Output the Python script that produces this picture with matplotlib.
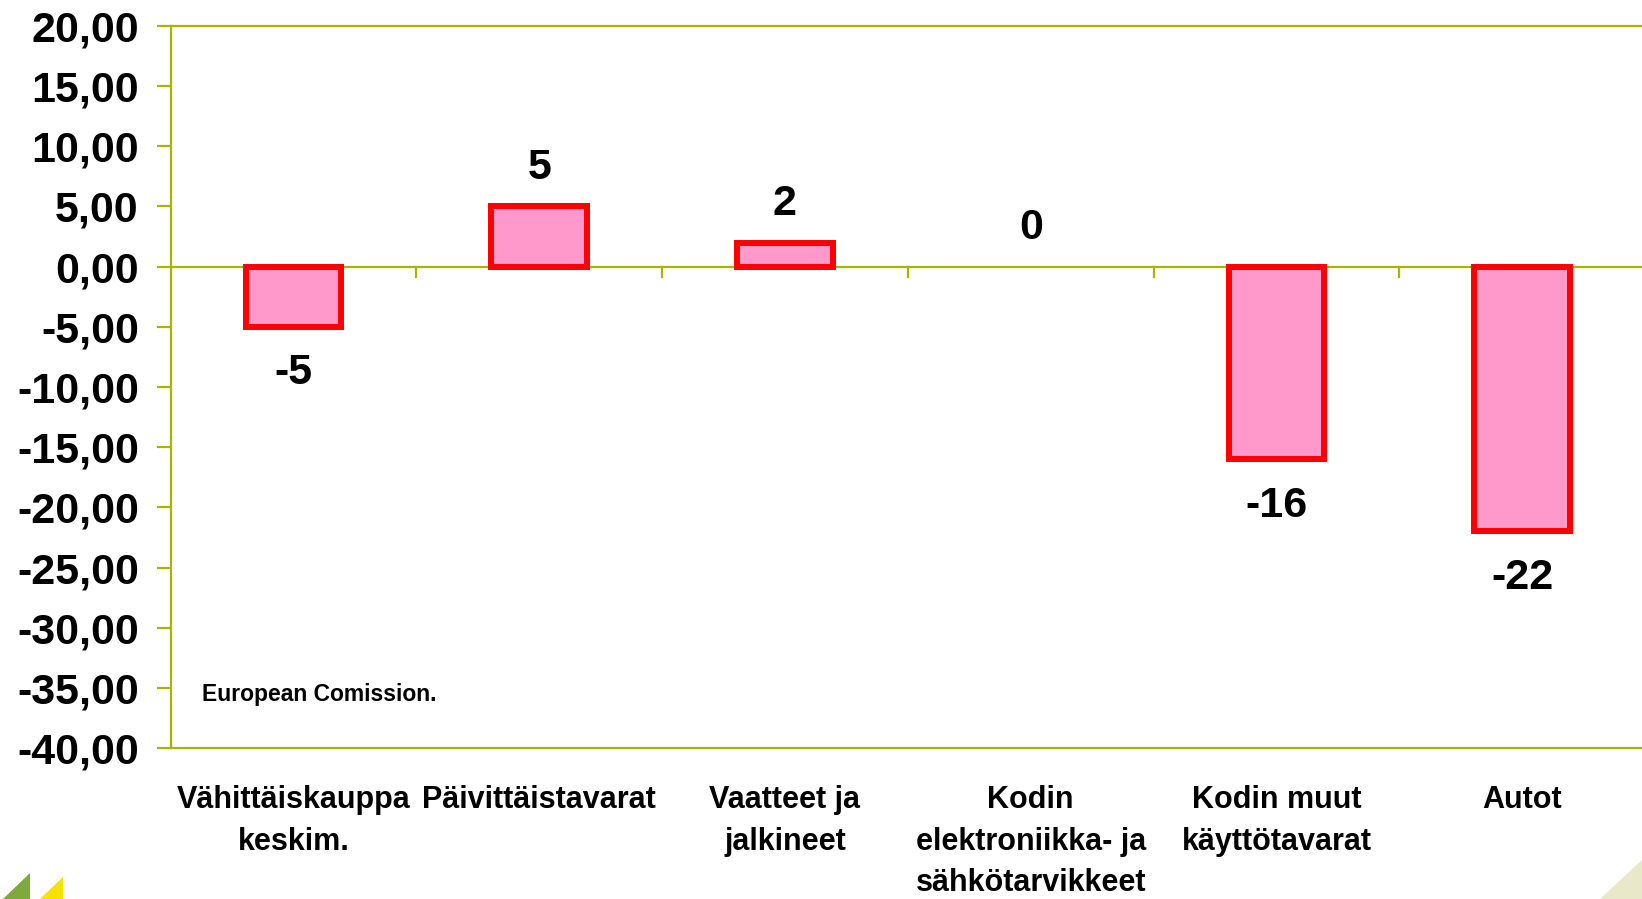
import matplotlib
matplotlib.use("Agg")
import matplotlib.pyplot as plt
from matplotlib.ticker import FuncFormatter
from matplotlib.patches import Polygon

categories = ["Vähittäiskauppa\nkeskim.", "Päivittäistavarat", "Vaatteet ja\njalkineet",
              "Kodin\nelektroniikka- ja\nsähkötarvikkeet", "Kodin muut\nkäyttötavarat", "Autot"]
values = [-5, 5, 2, 0, -16, -22]
yticks = [20, 15, 10, 5, 0, -5, -10, -15, -20, -25, -30, -35, -40]
source = "European Comission."

plt.rcParams['font.family'] = ['Liberation Sans', 'DejaVu Sans']
OLIVE = '#A8B400'

W, H = 1642, 899
fig = plt.figure(figsize=(W / 100, H / 100), dpi=100)
left_px, right_px, top_px, bot_px = 170.7, 1645, 26, 748
ax = fig.add_axes([left_px / W, (H - bot_px) / H, (right_px - left_px) / W, (bot_px - top_px) / H])

x = list(range(len(categories)))
edge_colors = ['#FF0000' if v != 0 else 'none' for v in values]
ax.bar(x, values, width=0.39, color='#FF99CC', edgecolor=edge_colors, linewidth=4.3, zorder=3)

ax.set_xlim(-0.5, len(categories) - 0.5)
ax.set_ylim(min(yticks), max(yticks))

for s in ax.spines.values():
    s.set_color(OLIVE)
    s.set_linewidth(1.6)

ax.axhline(0, color=OLIVE, linewidth=1.6, zorder=2)
for b in [i + 0.5 for i in x[:-1]]:
    ax.plot([b, b], [0, -0.9], color=OLIVE, linewidth=1.6, zorder=2, clip_on=False)

ax.set_yticks(yticks)
ax.yaxis.set_major_formatter(FuncFormatter(lambda v, p: f"{v:.2f}".replace('.', ',')))
ax.tick_params(axis='y', direction='out', length=10, width=1.6, color=OLIVE, pad=13,
               labelsize=31, labelcolor='black')
for lab in ax.get_yticklabels():
    lab.set_fontweight('bold')

ax.set_xticks(x)
ax.set_xticklabels(categories, fontsize=22, fontweight='bold', linespacing=1.51)
ax.tick_params(axis='x', length=0, pad=26.5)

for xi, v in zip(x, values):
    off = 27.5 if v >= 0 else -33.5
    ax.annotate(f"{v}", xy=(xi, v), xytext=(0, off), textcoords='offset points',
                ha='center', va='center', fontsize=31, fontweight='bold', zorder=4)

ax.text(202 / W, (H - 695) / H, source, transform=fig.transFigure, fontsize=16.5,
        fontweight='bold', ha='left', va='center')

# slide decorations
fig.patches.append(Polygon([[3 / W, 0], [30 / W, 0], [30 / W, (H - 873) / H]], closed=True,
                           transform=fig.transFigure, facecolor='#7DAA3A', edgecolor='none'))
fig.patches.append(Polygon([[40 / W, 0], [63 / W, 0], [63 / W, (H - 877) / H]], closed=True,
                           transform=fig.transFigure, facecolor='#F6E200', edgecolor='none'))
fig.patches.append(Polygon([[1600 / W, 0], [1, 0], [1, (H - 860) / H]], closed=True,
                           transform=fig.transFigure, facecolor='#E9E8C8', edgecolor='none'))

fig.savefig("out.png", dpi=100)
